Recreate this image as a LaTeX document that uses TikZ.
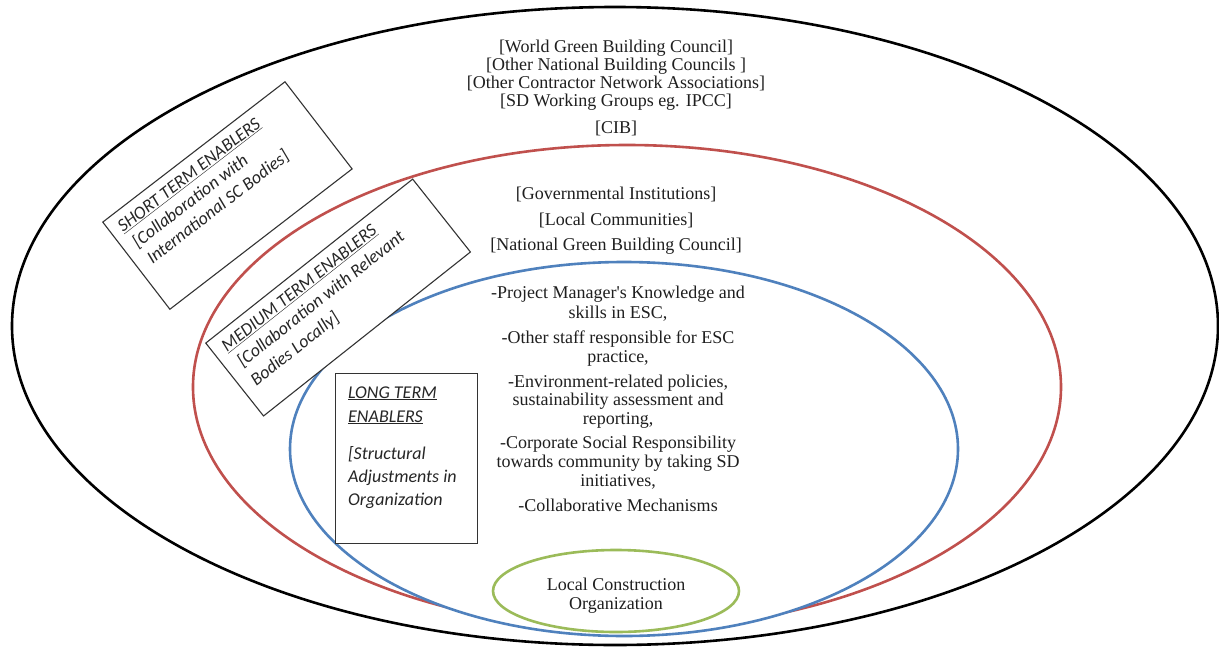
\documentclass[tikz,border=0pt]{standalone}
\usepackage{fontspec}
\setmainfont{Liberation Serif}
\newfontfamily\boxfont{Carlito}
\usetikzlibrary{shapes.geometric}
\definecolor{ringred}{RGB}{192,80,77}
\definecolor{ringblue}{RGB}{79,129,189}
\definecolor{ringgreen}{RGB}{155,187,89}
\begin{document}
\begin{tikzpicture}[x=1pt,y=-1pt,
  ring/.style={ellipse, draw=#1, fill=white, line width=2.6pt, inner sep=0pt, outer sep=0pt},
  serif/.style={font=\fontsize{18}{19}\selectfont, anchor=base, inner sep=0pt, text=black!88},
  boxtxt/.style={font=\boxfont\itshape\fontsize{18}{21}\selectfont, anchor=base west, inner sep=0pt, text=black!85},
  frame/.style={draw=black!80, line width=1.1pt, inner sep=0pt, fill=white}]
\useasboundingbox (0,0) rectangle (1219,648);
% rings (each filled white, drawn outer to inner)
\node[ring=black, minimum width=1206, minimum height=638] (outer) at (615,326) {};
\node[ring=ringred, minimum width=868, minimum height=484] (red) at (627,387) {};
\node[ring=ringblue, minimum width=668, minimum height=374] (blue) at (624,449) {};
\node[ring=ringgreen, minimum width=246, minimum height=82] (green) at (616,591) {};
% outer ring texts
\node[serif] (o1) at (616,52) {[World Green Building Council]};
\node[serif] (o2) at (616,70) {[Other National Building Councils ]};
\node[serif] (o3) at (616,88) {[Other Contractor Network Associations]};
\node[serif] (o4) at (616,106) {[SD Working Groups eg. IPCC]};
\node[serif] (o5) at (616,133) {[CIB]};
% red ring texts
\node[serif] (r1) at (616,199) {[Governmental Institutions]};
\node[serif] (r2) at (616,225) {[Local Communities]};
\node[serif] (r3) at (616,250) {[National Green Building Council]};
% blue ring texts
\node[serif] (b1) at (618,298) {-Project Manager\textquotesingle s Knowledge and};
\node[serif] (b2) at (618,318) {skills in ESC,};
\node[serif] (b3) at (618,343) {-Other staff responsible for ESC};
\node[serif] (b4) at (618,362) {practice,};
\node[serif] (b5) at (618,387) {-Environment-related policies,};
\node[serif] (b6) at (618,405) {sustainability assessment and};
\node[serif] (b7) at (618,424) {reporting,};
\node[serif] (b8) at (618,448) {-Corporate Social Responsibility};
\node[serif] (b9) at (618,467) {towards community by taking SD};
\node[serif] (b10) at (618,486) {initiatives,};
\node[serif] (b11) at (618,511) {-Collaborative Mechanisms};
% green ring text
\node[serif] (g1) at (616,590) {Local Construction};
\node[serif] (g2) at (616,609) {Organization};
% short term box
\begin{scope}[shift={(102,222)}, rotate=37.6, transform shape]
  \node[frame, minimum width=230, minimum height=110, anchor=north west] (short) at (0,0) {};
  \node[boxtxt] (s1) at (10,21.5) {\underline{SHORT TERM ENABLERS}};
  \node[boxtxt] (s2) at (12,43) {[Collaboration with};
  \node[boxtxt] (s3) at (14,64.5) {International SC Bodies]};
\end{scope}
% medium term box
\begin{scope}[shift={(205,343)}, rotate=38.4, transform shape]
  \node[frame, minimum width=264, minimum height=93, anchor=north west] (medium) at (0,0) {};
  \node[boxtxt] (m1) at (11.5,21) {\underline{MEDIUM TERM ENABLERS}};
  \node[boxtxt] (m2) at (14,43) {[Collaboration with Relevant};
  \node[boxtxt] (m3) at (13,66) {Bodies Locally]};
\end{scope}
% long term box
\node[frame, minimum width=142, minimum height=170, anchor=north west] (long) at (335,373) {};
\node[boxtxt] (l1) at (348,398) {\underline{LONG TERM}};
\node[boxtxt] (l2) at (348,422) {\underline{ENABLERS}};
\node[boxtxt] (l3) at (348,459) {[Structural};
\node[boxtxt] (l4) at (348,482) {Adjustments in};
\node[boxtxt] (l5) at (348,505) {Organization};
\end{tikzpicture}
\end{document}
